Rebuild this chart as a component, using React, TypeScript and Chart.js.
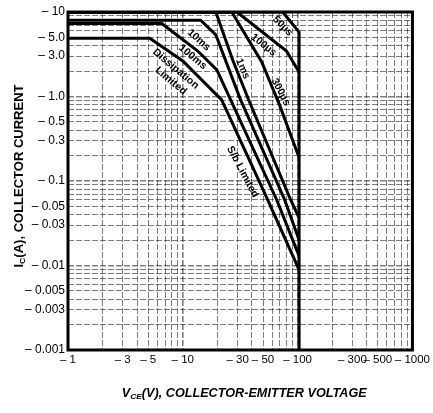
import React, { useEffect, useRef } from 'react';
import { Chart, registerables } from 'chart.js';
Chart.register(...registerables);

const FONT = '"Liberation Sans", Arial, sans-serif';

// Axis ticks (log grid: every integer multiple in each decade)
const xTickValues = [1, 2, 3, 4, 5, 6, 7, 8, 9, 10, 20, 30, 40, 50, 60, 70, 80, 90, 100, 200, 300, 400, 500, 600, 700, 800, 900, 1000];
const xLabelValues = [1, 3, 5, 10, 30, 50, 100, 300, 500, 1000];
const xLabelTexts = ['– 1', '– 3', '– 5', '– 10', '– 30', '– 50', '– 100', '– 300', '– 500', '– 1000'];

const yTickValues = [
  0.001, 0.002, 0.003, 0.004, 0.005, 0.006, 0.007, 0.008, 0.009,
  0.01, 0.02, 0.03, 0.04, 0.05, 0.06, 0.07, 0.08, 0.09,
  0.1, 0.2, 0.3, 0.4, 0.5, 0.6, 0.7, 0.8, 0.9,
  1, 2, 3, 4, 5, 6, 7, 8, 9, 10,
];
const yLabelValues = [10, 5, 3, 1, 0.5, 0.3, 0.1, 0.05, 0.03, 0.01, 0.005, 0.003, 0.001];
const yLabelTexts = ['– 10', '– 5.0', '– 3.0', '– 1.0', '– 0.5', '– 0.3', '– 0.1', '– 0.05', '– 0.03', '– 0.01', '– 0.005', '– 0.003', '– 0.001'];

// Safe-operating-area curves: VCE (V) and IC (A)
const v50us = [1, 74, 103, 103];
const i50us = [10, 10, 5.8, 0.001];
const v100us = [1, 29.6, 80, 103];
const i100us = [10, 10, 3.45, 1.95];
const v300us = [1, 26.7, 48.7, 69.7, 103];
const i300us = [10, 10, 2.56, 0.79, 0.19];
const v1ms = [1, 19.4, 27.2, 37.5, 86.9, 103];
const i1ms = [10, 10, 2.7, 0.91, 0.06, 0.0365];
const v10ms = [1, 14.3, 19.4, 31.9, 77.1, 103];
const i10ms = [8.0, 8.0, 5.35, 0.91, 0.06, 0.02];
const v100ms = [1, 6.57, 13.5, 19.8, 26.1, 65.7, 103];
const i100ms = [7.3, 7.3, 3.45, 2.06, 0.91, 0.06, 0.013];
const vDC = [1, 5.16, 10.0, 21.8, 54.8, 103];
const iDC = [4.9, 4.9, 2.63, 0.91, 0.06, 0.0089];

// Curve annotations (text, VCE, IC, angle in degrees)
const noteTexts = ['50µs', '100µs', '300µs', '1ms', '10ms', '100ms', 'Dissipation', 'Limited', 'S/b Limited'];
const noteV = [74.1, 50.6, 71.1, 33.3, 13.8, 12.2, 8.69, 7.87, 33.2];
const noteI = [6.82, 4.07, 1.13, 2.13, 4.66, 2.93, 2.12, 1.53, 0.128];
const noteAngle = [45, 38, 62, 66, 42, 40, 40, 40, 62];

const near = (a: number, b: number) => Math.abs(Math.log10(a) - Math.log10(b)) < 1e-6;
const isDecade = (v: number) => Math.abs(Math.log10(v) - Math.round(Math.log10(v))) < 1e-6;

const curves = [
  [v50us, i50us],
  [v100us, i100us],
  [v300us, i300us],
  [v1ms, i1ms],
  [v10ms, i10ms],
  [v100ms, i100ms],
  [vDC, iDC],
];

function drawTitle(ctx: CanvasRenderingContext2D, parts: { t: string; sub: boolean }[], cx: number, cy: number, rot: number, targetW: number, italic: boolean) {
  const main = `${italic ? 'italic ' : ''}bold 12px ${FONT}`;
  const sub = `${italic ? 'italic ' : ''}bold 8px ${FONT}`;
  let total = 0;
  const widths = parts.map((p) => {
    ctx.font = p.sub ? sub : main;
    const w = ctx.measureText(p.t).width;
    total += w;
    return w;
  });
  ctx.save();
  ctx.translate(cx, cy);
  ctx.rotate(rot);
  ctx.scale(targetW / total, 1);
  ctx.fillStyle = '#000';
  ctx.textBaseline = 'middle';
  ctx.textAlign = 'left';
  let x = -total / 2;
  parts.forEach((p, i) => {
    ctx.font = p.sub ? sub : main;
    ctx.fillText(p.t, x, p.sub ? 3 : 0);
    x += widths[i];
  });
  ctx.restore();
}

const decorPlugin = {
  id: 'decor',
  afterDatasetsDraw(chart: any) {
    const { ctx, chartArea, scales } = chart;
    ctx.save();
    ctx.strokeStyle = '#000';
    ctx.lineWidth = 3;
    ctx.strokeRect(chartArea.left, chartArea.top, chartArea.right - chartArea.left, chartArea.bottom - chartArea.top);
    ctx.restore();

    ctx.save();
    ctx.fillStyle = '#000';
    ctx.font = `bold 10.5px ${FONT}`;
    ctx.textAlign = 'center';
    ctx.textBaseline = 'middle';
    noteTexts.forEach((t, i) => {
      const px = scales.x.getPixelForValue(noteV[i]);
      const py = scales.y.getPixelForValue(noteI[i]);
      ctx.save();
      ctx.translate(px, py);
      ctx.rotate((noteAngle[i] * Math.PI) / 180);
      ctx.fillText(t, 0, 0);
      ctx.restore();
    });
    ctx.restore();

    const midX = (chartArea.left + chartArea.right) / 2 + 4;
    drawTitle(ctx, [{ t: 'V', sub: false }, { t: 'CE', sub: true }, { t: '(V), COLLECTOR-EMITTER VOLTAGE', sub: false }], midX, 394, 0, 245, true);
    const midY = (chartArea.top + chartArea.bottom) / 2 - 5;
    drawTitle(ctx, [{ t: 'I', sub: false }, { t: 'C', sub: true }, { t: '(A), COLLECTOR CURRENT', sub: false }], 20, midY, -Math.PI / 2, 183, false);
  },
};

export default function App() {
  const ref = useRef<HTMLCanvasElement | null>(null);
  useEffect(() => {
    if (!ref.current) return;
    const chart = new Chart(ref.current, {
      type: 'line',
      data: {
        datasets: curves.map(([vs, is]) => ({
          data: vs.map((v, k) => ({ x: v, y: is[k] })),
          borderColor: '#000',
          borderWidth: 3,
          pointRadius: 0,
          fill: false,
          tension: 0,
          borderJoinStyle: 'miter' as const,
        })),
      },
      options: {
        animation: false,
        responsive: true,
        maintainAspectRatio: false,
        layout: { padding: { top: 12, right: 20, left: 0, bottom: 0 } },
        plugins: { legend: { display: false }, tooltip: { enabled: false }, title: { display: false } },
        scales: {
          x: {
            type: 'logarithmic',
            min: 1,
            max: 1000,
            afterBuildTicks: (s: any) => {
              s.ticks = xTickValues.map((v) => ({ value: v }));
            },
            afterFit: (s: any) => {
              s.height = 63;
            },
            ticks: {
              autoSkip: false,
              maxRotation: 0,
              minRotation: 0,
              padding: 3,
              color: '#000',
              font: { family: FONT, size: 11.5 },
              callback: (v: any) => {
                const idx = xLabelValues.findIndex((l) => near(l, Number(v)));
                return idx >= 0 ? xLabelTexts[idx] : '';
              },
            },
            grid: {
              drawTicks: false,
              color: 'rgba(0,0,0,0.5)',
              lineWidth: (c: any) => (c.tick && isDecade(c.tick.value) ? 1.6 : 1),
            },
            border: { display: false, dash: [6, 2] },
          },
          y: {
            type: 'logarithmic',
            min: 0.001,
            max: 10,
            afterBuildTicks: (s: any) => {
              s.ticks = yTickValues.map((v) => ({ value: v }));
            },
            afterFit: (s: any) => {
              s.width = 68;
            },
            ticks: {
              autoSkip: false,
              padding: 3,
              color: '#000',
              font: { family: FONT, size: 12 },
              callback: (v: any) => {
                const idx = yLabelValues.findIndex((l) => near(l, Number(v)));
                return idx >= 0 ? yLabelTexts[idx] : '';
              },
            },
            grid: {
              drawTicks: false,
              color: 'rgba(0,0,0,0.5)',
              lineWidth: (c: any) => (c.tick && isDecade(c.tick.value) ? 1.6 : 1),
            },
            border: { display: false, dash: [6, 2] },
          },
        },
      } as any,
      plugins: [decorPlugin],
    });
    return () => chart.destroy();
  }, []);
  return (
    <div style={{ position: 'fixed', left: 0, top: 0, width: 433, height: 413, background: '#fff' }}>
      <canvas ref={ref} />
    </div>
  );
}
